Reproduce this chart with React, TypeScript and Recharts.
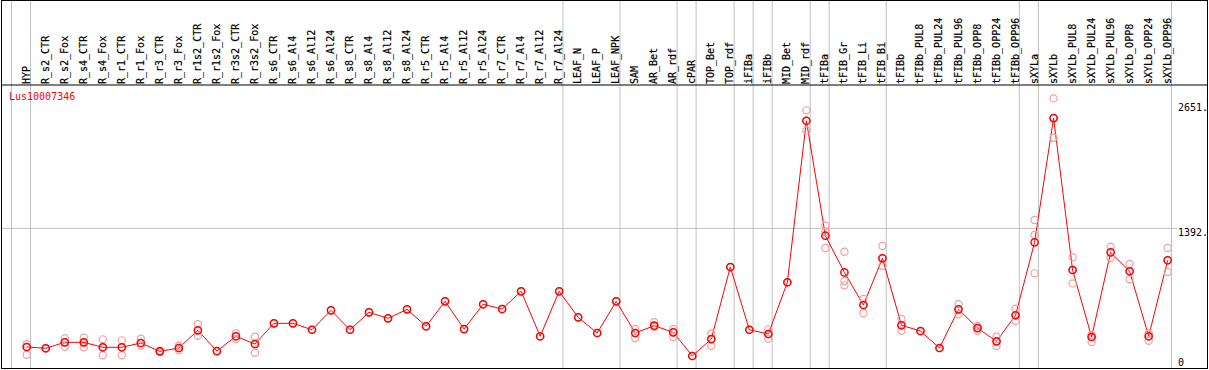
import React from 'react';
import { ComposedChart, Line, Scatter, XAxis, YAxis, ReferenceLine } from 'recharts';

const geneId = 'Lus10007346';

const categories = [
  'HYP', 'R_s2_CTR', 'R_s2_Fox', 'R_s4_CTR', 'R_s4_Fox', 'R_r1_CTR', 'R_r1_Fox', 'R_r3_CTR',
  'R_r3_Fox', 'R_r1s2_CTR', 'R_r1s2_Fox', 'R_r3s2_CTR', 'R_r3s2_Fox', 'R_s6_CTR', 'R_s6_Al4',
  'R_s6_Al12', 'R_s6_Al24', 'R_s8_CTR', 'R_s8_Al4', 'R_s8_Al12', 'R_s8_Al24', 'R_r5_CTR',
  'R_r5_Al4', 'R_r5_Al12', 'R_r5_Al24', 'R_r7_CTR', 'R_r7_Al4', 'R_r7_Al12', 'R_r7_Al24',
  'LEAF_N', 'LEAF_P', 'LEAF_NPK', 'SAM', 'AR_Bet', 'AR_rdf', 'cPAR', 'TOP_Bet', 'TOP_rdf',
  'iFIBa', 'iFIBb', 'MID_Bet', 'MID_rdf', 'tFIBa', 'tFIB_Gr', 'tFIB_Li', 'tFIB_Bi', 'tFIBb',
  'tFIBb_PUL8', 'tFIBb_PUL24', 'tFIBb_PUL96', 'tFIBb_OPP8', 'tFIBb_OPP24', 'tFIBb_OPP96',
  'sXYLa', 'sXYLb', 'sXYLb_PUL8', 'sXYLb_PUL24', 'sXYLb_PUL96', 'sXYLb_OPP8', 'sXYLb_OPP24',
  'sXYLb_OPP96',
];

const means = [
  195, 182, 242, 242, 192, 192, 235, 151, 185, 363, 154, 303, 225, 434, 434, 369, 565, 369,
  545, 484, 575, 404, 656, 376, 626, 578, 757, 303, 757, 494, 336, 656, 336, 410, 343, 104,
  275, 1002, 369, 326, 848, 2478, 1318, 948, 619, 1090, 414, 356, 185, 575, 386, 252, 515,
  1251, 2505, 972, 296, 1150, 959, 303, 1070,
];

// single replicate values (light circles)
const replicates: number[][] = [
  [222, 195, 117], [182], [283, 242, 198], [289, 242, 192], [272, 192, 111], [262, 192, 111],
  [278, 235, 208], [157, 151, 144], [208, 185, 164], [424, 363, 309], [154], [333, 303, 275],
  [299, 225, 137], [434], [434], [369], [565], [369], [545], [484], [575], [404], [656], [376],
  [626], [578], [757], [303], [757], [494], [336], [656], [376, 336, 286], [444, 410, 394],
  [376, 343, 296], [104], [329, 275, 208], [1002], [369], [373, 326, 278], [848],
  [2583, 2478, 2381], [1419, 1358, 1194], [1156, 861, 817], [679, 619, 535], [1214, 1090, 1015],
  [477, 414, 359], [356], [185], [626, 575, 525], [407, 386, 359], [299, 252, 205],
  [581, 515, 460], [1476, 1325, 938], [2704, 2505, 2307], [1100, 972, 837], [316, 296, 245],
  [1207, 1150, 1096], [1032, 959, 878], [333, 303, 258], [1194, 1070, 951],
];

const yTicks = [0, 1392, 2651];
// tissue groups end after these category indexes
const groupEnds = [-1, 0, 28, 31, 34, 35, 37, 38, 39, 41, 42, 45, 52, 53, 60];

const X_MIN = -1.353;
const X_MAX = 62.12;
const Y_MIN = -17;
const Y_MAX = 2839;
const HEADER_TOP = 3697;
const FONT = '"DejaVu Sans Mono", monospace';

const meanData = categories.map((name, i) => ({ x: i, name, mean: means[i] }));
const repData = replicates.flatMap((vals, i) => vals.map((v) => ({ x: i, rep: v })));

function CategoryTick({ x, y, payload }: any) {
  const name = categories[payload.value];
  if (name === undefined) return null;
  const tx = Math.round(x) + 2.5;
  const ty = y - 1;
  return (
    <text
      x={tx}
      y={ty}
      transform={`rotate(-90 ${tx} ${ty})`}
      fontFamily={FONT}
      fontSize={10}
      fill="#000"
      stroke="#000"
      strokeWidth={0.2}
      textAnchor="start"
    >
      {name}
    </text>
  );
}

function ValueTick({ y, payload }: any) {
  const v = payload.value;
  const label = v === 0 ? '0' : `${v}.`;
  return (
    <text x={1178} y={v === 0 ? y - 0.6 : y + 7.5} fontFamily={FONT} fontSize={10} fill="#000" textAnchor="start">
      {label}
    </text>
  );
}

function RepDot({ cx, cy }: any) {
  return <circle cx={cx} cy={cy} r={3.6} fill="none" stroke="#f0a0a0" strokeWidth={1.2} />;
}

export default function App() {
  return (
    <div style={{ position: 'absolute', left: 0, top: 0, width: 1209, height: 370, background: '#fff' }}>
      <ComposedChart
        width={1209}
        height={370}
        data={meanData}
        margin={{ top: 0, right: 1, bottom: 2, left: 1 }}
      >
        <XAxis
          dataKey="x"
          type="number"
          orientation="top"
          height={85}
          domain={[X_MIN, X_MAX]}
          allowDataOverflow
          ticks={categories.map((_, i) => i)}
          interval={0}
          tickLine={false}
          tickSize={0}
          tickMargin={0}
          axisLine={{ stroke: '#000' }}
          tick={<CategoryTick />}
        />
        <YAxis
          type="number"
          orientation="right"
          mirror
          width={1}
          domain={[Y_MIN, Y_MAX]}
          allowDataOverflow
          ticks={yTicks}
          interval={0}
          tickLine={false}
          axisLine={false}
          tickSize={0}
          tickMargin={0}
          tick={<ValueTick />}
        />
        {groupEnds.map((g) => (
          <ReferenceLine
            key={g}
            segment={[{ x: g + 0.2, y: Y_MIN }, { x: g + 0.2, y: HEADER_TOP }]}
            ifOverflow="visible"
            stroke="#c0c0c0"
            strokeWidth={1}
          />
        ))}
        <ReferenceLine
          segment={[{ x: X_MIN, y: yTicks[1] }, { x: 60.5, y: yTicks[1] }]}
          stroke="#c0c0c0"
          strokeWidth={1}
        />
        <Scatter data={repData} dataKey="rep" shape={<RepDot />} isAnimationActive={false} />
        <Line
          dataKey="mean"
          stroke="#ff0000"
          strokeWidth={1}
          dot={{ r: 3.6, stroke: '#ff0000', strokeWidth: 1.5, fill: 'none' }}
          activeDot={false}
          isAnimationActive={false}
        />
      </ComposedChart>
      <svg width={1209} height={370} style={{ position: 'absolute', left: 0, top: 0, pointerEvents: 'none' }}>
        <text x={9} y={100} fontFamily={FONT} fontSize={10} fill="#ff0000">
          {geneId}
        </text>
      </svg>
      <div
        style={{
          position: 'absolute',
          left: 1,
          top: 0,
          width: 1207,
          height: 369,
          border: '1px solid #000',
          boxSizing: 'border-box',
          pointerEvents: 'none',
        }}
      />
    </div>
  );
}
